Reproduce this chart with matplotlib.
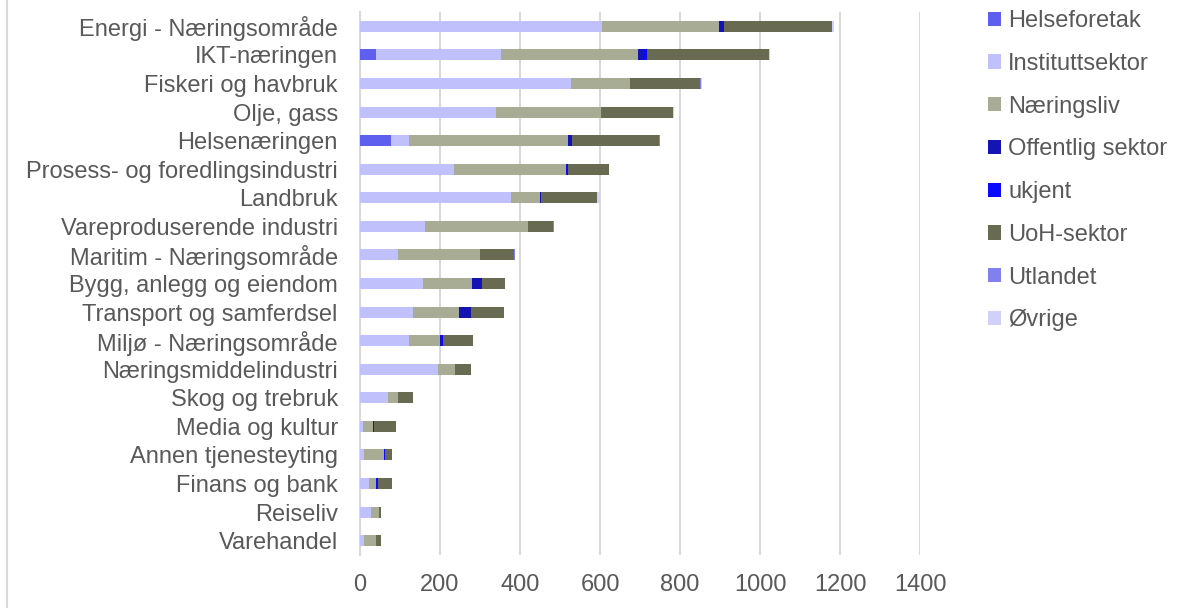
import numpy as np
import matplotlib
matplotlib.use("Agg")
import matplotlib.pyplot as plt
from matplotlib.patches import Patch
from matplotlib.lines import Line2D

plt.rcParams['font.family'] = ['Liberation Sans', 'DejaVu Sans']

# categories, top to bottom
categories = ['Energi - Næringsområde', 'IKT-næringen', 'Fiskeri og havbruk', 'Olje, gass',
              'Helsenæringen', 'Prosess- og foredlingsindustri', 'Landbruk',
              'Vareproduserende industri', 'Maritim - Næringsområde', 'Bygg, anlegg og eiendom',
              'Transport og samferdsel', 'Miljø - Næringsområde', 'Næringsmiddelindustri',
              'Skog og trebruk', 'Media og kultur', 'Annen tjenesteyting', 'Finans og bank',
              'Reiseliv', 'Varehandel']

helseforetak = [0, 40, 0, 0, 78, 0, 0, 0, 0, 0, 0, 0, 0, 0, 0, 0, 0, 0, 0]
instituttsektor = [605, 313, 527, 340, 45, 235, 377, 162, 96, 157, 132, 122, 196, 71, 8, 11, 22, 27, 11]
naeringsliv = [292, 341, 148, 263, 397, 279, 73, 258, 204, 123, 116, 77, 42, 23, 25, 48, 19, 21, 28]
offentlig = [13, 16, 0, 0, 7, 0, 3, 0, 0, 25, 30, 6, 0, 0, 0, 0, 0, 0, 0]
ukjent = [1, 7, 0, 0, 2, 5, 0, 0, 0, 0, 0, 2, 0, 0, 3, 3, 4, 0, 0]
uoh = [270, 306, 175, 180, 219, 103, 140, 62, 85, 57, 82, 75, 40, 38, 55, 19, 35, 4, 13]
utlandet = [0, 0, 2, 0, 2, 0, 0, 2, 2, 0, 0, 0, 0, 0, 0, 0, 0, 0, 0]
ovrige = [3, 2, 2, 2, 1, 1, 7, 1, 1, 1, 1, 1, 0, 0, 0, 0, 0, 0, 0]

series = [('Helseforetak', helseforetak, '#5f5fef'),
          ('Instituttsektor', instituttsektor, '#c0c0fc'),
          ('Næringsliv', naeringsliv, '#a9ac94'),
          ('Offentlig sektor', offentlig, '#1414b4'),
          ('ukjent', ukjent, '#0a0aff'),
          ('UoH-sektor', uoh, '#686b52'),
          ('Utlandet', utlandet, '#8080ee'),
          ('Øvrige', ovrige, '#d0d0fa')]

txt = '#595959'
fig = plt.figure(figsize=(11.82, 6.08), dpi=100)
ax = fig.add_axes([360 / 1182, 1 - 555 / 608, 560 / 1182, 543 / 608])

y = np.arange(len(categories))
left = np.zeros(len(categories))
for name, vals, col in series:
    vals = np.array(vals, dtype=float)
    ax.barh(y, vals, left=left, height=0.385, color=col, label=name, zorder=3)
    left += vals

ax.set_xlim(0, 1400)
ax.set_ylim(len(categories) - 0.5, -0.5)
ax.set_xticks(range(0, 1401, 200))
ax.set_yticks(y)
ax.set_yticklabels(categories)
ax.grid(axis='x', color='#d9d9d9', linewidth=1.5, zorder=0)
for s in ['top', 'right', 'bottom']:
    ax.spines[s].set_visible(False)
ax.spines['left'].set_color('#d9d9d9')
ax.spines['left'].set_linewidth(1.5)
ax.tick_params(axis='both', length=0, labelsize=17, colors=txt)
ax.tick_params(axis='y', pad=16)
ax.tick_params(axis='x', pad=14)

handles = [Patch(facecolor=c, label=n) for n, v, c in series]
leg = fig.legend(handles=handles, loc='upper left', bbox_to_anchor=(988 / 1182, 1 - 10 / 608),
                 frameon=False, fontsize=17, handlelength=0.55, handleheight=0.55,
                 handletextpad=0.3, labelspacing=0.88, borderpad=0, borderaxespad=0)
for t in leg.get_texts():
    t.set_color(txt)

fig.add_artist(Line2D([7 / 1182, 7 / 1182], [0, 1], color='#d9d9d9', linewidth=1.5))

fig.savefig('out.png', dpi=100)
